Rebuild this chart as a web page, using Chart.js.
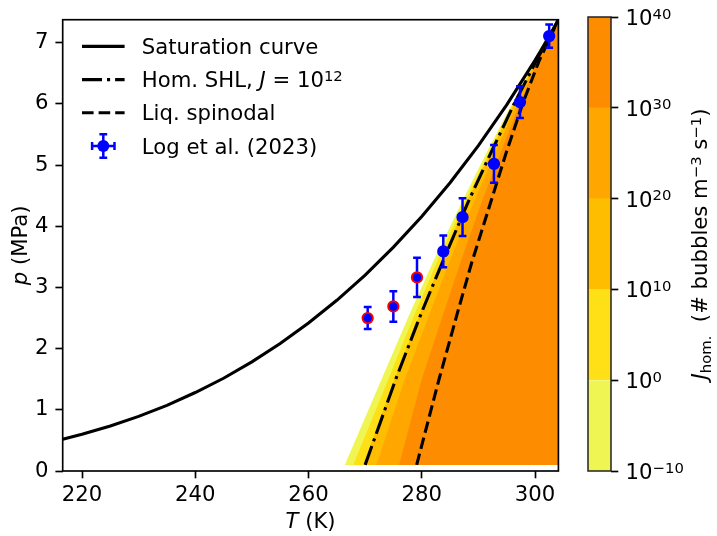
<!DOCTYPE html>
<html>
<head>
<meta charset="utf-8">
<script src="https://cdn.jsdelivr.net/npm/chart.js@4.4.1/dist/chart.umd.min.js"></script>
<style>
  html, body { margin: 0; padding: 0; background: #ffffff; }
  #wrap { position: relative; width: 717px; height: 536px; overflow: hidden; background: #fff; }
  #wrap canvas { position: absolute; left: 0; top: 0; }
</style>
</head>
<body>
<div id="wrap">
  <canvas id="main" width="717" height="536"></canvas>
  <canvas id="cbar" width="717" height="536"></canvas>
</div>
<script>
// ---------------- data ----------------
const T_MIN = 216.59, T_MAX = 304.13, P_MAX = 7.377;

// saturation curve (T in K, p in MPa)
const satT = [216.59, 220, 225, 230, 235, 240, 245, 250, 255, 260, 265, 270, 275, 280, 285, 290, 295, 300, 301, 302, 303, 304.13];
const satP = [0.518, 0.599, 0.736, 0.893, 1.072, 1.283, 1.516, 1.785, 2.084, 2.419, 2.790, 3.203, 3.659, 4.161, 4.712, 5.318, 5.986, 6.713, 6.868, 7.028, 7.190, 7.377];

// pressure levels at which the contour boundaries were read
const contourP = [0.1, 1.5, 2.6, 3.4, 4.4, 5.2, 6.0, 6.7, 7.377];
// temperature of each J contour level at those pressures
const jm10T = [266.4, 272.9, 278.0, 281.9, 287.1, 291.4, 295.9, 300.05, 304.13];
const j0T   = [267.9, 274.1, 278.9, 282.6, 287.6, 291.8, 296.1, 300.1, 304.13];
const j10T  = [269.7, 275.2, 279.8, 283.3, 288.0, 292.1, 296.25, 300.15, 304.13];
const j20T  = [272.0, 277.0, 281.5, 284.8, 289.2, 293.0, 296.8, 300.35, 304.13];
const j30T  = [276.0, 280.0, 283.9, 286.8, 290.6, 293.9, 297.3, 300.5, 304.13];
// homogeneous superheat limit J = 1e12 and liquid spinodal
const shlT  = [270.0, 275.4, 280.0, 283.6, 288.2, 292.2, 296.3, 300.2, 304.13];
const spinT = [279.1, 283.05, 286.35, 288.8, 292.2, 294.9, 297.8, 300.7, 304.13];

// Log et al. (2023) measurements
const logT    = [270.45, 274.98, 279.16, 283.8, 287.2, 292.75, 297.35, 302.5];
const logP    = [2.50, 2.69, 3.165, 3.59, 4.15, 5.02, 6.03, 7.11];
const logPerr = [0.18, 0.25, 0.32, 0.26, 0.31, 0.31, 0.26, 0.19];
const logFlag = [true, true, true, false, false, false, false, false];

// ticks
const xTicks = [220, 240, 260, 280, 300];
const yTicks = [0, 1, 2, 3, 4, 5, 6, 7];
const cbarLevels = [-10, 0, 10, 20, 30, 40];

// ---------------- styling ----------------
const FONT = 'DejaVu Sans';
const FS = 21.2;
const LW = 3.1;
const bandColors = ['#eff654', '#ffdf15', '#ffbd00', '#ffa600', '#fd8c00'];

Chart.defaults.font.family = FONT;
Chart.defaults.color = '#000';

function partFont(p) {
  const size = (p.s === 'sup' || p.s === 'sub') ? FS * 0.7 : FS;
  return (p.i ? 'italic ' : '') + size + 'px "' + FONT + '"';
}
function richWidth(ctx, parts) {
  let w = 0;
  for (const p of parts) { ctx.font = partFont(p); w += ctx.measureText(p.t).width; }
  return w;
}
function drawRich(ctx, parts, x, y, align) {
  ctx.save();
  ctx.textBaseline = 'alphabetic';
  ctx.textAlign = 'left';
  ctx.fillStyle = '#000';
  const w = richWidth(ctx, parts);
  let cx = x;
  if (align === 'center') cx = x - w / 2;
  else if (align === 'right') cx = x - w;
  for (const p of parts) {
    ctx.font = partFont(p);
    const dy = p.s === 'sup' ? -0.3 * FS : (p.s === 'sub' ? 0.2 * FS : 0);
    ctx.fillText(p.t, cx, y + dy);
    cx += ctx.measureText(p.t).width;
  }
  ctx.restore();
}

function polygon(tArr) {
  const pts = contourP.map((p, i) => ({ x: tArr[i], y: p }));
  pts.push({ x: T_MAX, y: contourP[0] });
  return pts;
}
function curve(tArr, pArr) { return tArr.map((t, i) => ({ x: t, y: pArr[i] })); }

const bandData = [jm10T, j0T, j10T, j20T, j30T];
const datasets = [];
bandData.forEach((arr, k) => {
  datasets.push({
    label: 'J band ' + cbarLevels[k],
    data: polygon(arr),
    fill: 'shape',
    backgroundColor: bandColors[k],
    borderColor: 'rgba(0,0,0,0)',
    borderWidth: 0,
    pointRadius: 0,
    tension: 0,
    order: 6 - k
  });
});
datasets.push({
  label: 'Saturation curve', data: curve(satT, satP), fill: false,
  borderColor: '#000', borderWidth: LW, pointRadius: 0, tension: 0, order: 1,
  borderCapStyle: 'butt'
});
datasets.push({
  label: 'Hom. SHL', data: curve(shlT, contourP), fill: false,
  borderColor: '#000', borderWidth: LW, borderDash: [20, 5, 3.1, 5], pointRadius: 0, tension: 0, order: 1,
  borderCapStyle: 'butt'
});
datasets.push({
  label: 'Liq. spinodal', data: curve(spinT, contourP), fill: false,
  borderColor: '#000', borderWidth: LW, borderDash: [11.6, 5], pointRadius: 0, tension: 0, order: 1,
  borderCapStyle: 'butt'
});
const LOG_INDEX = datasets.length;
datasets.push({
  label: 'Log et al. (2023)', data: curve(logT, logP), showLine: false, fill: false,
  borderColor: '#0000ff', backgroundColor: '#0000ff',
  pointRadius: 5.2, pointBorderWidth: 1.9,
  pointBackgroundColor: '#0000ff',
  pointBorderColor: logFlag.map(f => f ? '#ff0000' : '#0000ff'),
  order: 0
});

const ERR_LW = 2.5, CAP = 3.9;
const errPlugin = {
  id: 'errbars',
  beforeDatasetDraw(chart, args) {
    if (args.index !== LOG_INDEX) return;
    const ctx = chart.ctx, xs = chart.scales.x, ys = chart.scales.y;
    ctx.save();
    ctx.strokeStyle = '#0000ff';
    ctx.lineWidth = ERR_LW;
    logT.forEach((t, i) => {
      const x = xs.getPixelForValue(t);
      const y1 = ys.getPixelForValue(logP[i] - logPerr[i]);
      const y2 = ys.getPixelForValue(logP[i] + logPerr[i]);
      ctx.beginPath();
      ctx.moveTo(x, y1); ctx.lineTo(x, y2);
      ctx.moveTo(x - CAP, y1); ctx.lineTo(x + CAP, y1);
      ctx.moveTo(x - CAP, y2); ctx.lineTo(x + CAP, y2);
      ctx.stroke();
    });
    ctx.restore();
  }
};

const framePlugin = {
  id: 'frame',
  afterDatasetsDraw(chart) {
    const a = chart.chartArea, ctx = chart.ctx;
    ctx.save();
    ctx.strokeStyle = '#000';
    ctx.lineWidth = 1.67;
    ctx.strokeRect(a.left, a.top, a.right - a.left, a.bottom - a.top);
    ctx.restore();
  }
};

const legendItems = [
  { parts: [{ t: 'Saturation curve' }], kind: 'solid' },
  { parts: [{ t: 'Hom. SHL, ' }, { t: 'J', i: true }, { t: ' = 10' }, { t: '12', s: 'sup' }], kind: 'dashdot' },
  { parts: [{ t: 'Liq. spinodal' }], kind: 'dashed' },
  { parts: [{ t: 'Log et al. (2023)' }], kind: 'err' }
];

const legendPlugin = {
  id: 'inlegend',
  afterDraw(chart) {
    const ctx = chart.ctx;
    const a = chart.chartArea;
    const hx0 = a.left + 19.3, hx1 = hx0 + 42.6, tx = hx1 + 17.2;
    legendItems.forEach((it, i) => {
      const base = a.top + 34.3 + 33.2 * i;
      const hy = base - 7.6;
      ctx.save();
      ctx.strokeStyle = '#000';
      ctx.lineWidth = LW;
      ctx.lineCap = 'butt';
      if (it.kind !== 'err') {
        if (it.kind === 'dashdot') ctx.setLineDash([20, 5, 3.1, 5]);
        if (it.kind === 'dashed') ctx.setLineDash([11.6, 5]);
        ctx.beginPath(); ctx.moveTo(hx0, hy); ctx.lineTo(hx1, hy); ctx.stroke();
      } else {
        const cx = (hx0 + hx1) / 2;
        ctx.strokeStyle = '#0000ff';
        ctx.lineWidth = ERR_LW;
        ctx.beginPath();
        ctx.moveTo(cx, hy - 11.7); ctx.lineTo(cx, hy + 11.7);
        ctx.moveTo(cx - CAP, hy - 11.7); ctx.lineTo(cx + CAP, hy - 11.7);
        ctx.moveTo(cx - CAP, hy + 11.7); ctx.lineTo(cx + CAP, hy + 11.7);
        ctx.moveTo(cx - 11.2, hy); ctx.lineTo(cx + 11.2, hy);
        ctx.moveTo(cx - 11.2, hy - CAP); ctx.lineTo(cx - 11.2, hy + CAP);
        ctx.moveTo(cx + 11.2, hy - CAP); ctx.lineTo(cx + 11.2, hy + CAP);
        ctx.stroke();
        ctx.fillStyle = '#0000ff';
        ctx.beginPath(); ctx.arc(cx, hy, 6.0, 0, Math.PI * 2); ctx.fill();
      }
      ctx.restore();
      drawRich(ctx, it.parts, tx, base, 'left');
    });
  }
};

const titlePlugin = {
  id: 'axtitles',
  afterDraw(chart) {
    const ctx = chart.ctx, a = chart.chartArea;
    drawRich(ctx, [{ t: 'T', i: true }, { t: ' (K)' }], (a.left + a.right) / 2, 528, 'center');
    ctx.save();
    ctx.translate(27, (a.top + a.bottom) / 2);
    ctx.rotate(-Math.PI / 2);
    drawRich(ctx, [{ t: 'p', i: true }, { t: ' (MPa)' }], 0, 0, 'center');
    ctx.restore();
  }
};

new Chart(document.getElementById('main'), {
  type: 'line',
  data: { datasets },
  options: {
    responsive: false,
    animation: false,
    events: [],
    layout: { padding: { left: 0, right: 158.6, top: 17, bottom: 0 } },
    plugins: { legend: { display: false }, tooltip: { enabled: false } },
    scales: {
      x: {
        type: 'linear', min: T_MIN, max: T_MAX,
        afterBuildTicks: s => { s.ticks = xTicks.map(v => ({ value: v })); },
        afterFit: s => { s.height = 65; },
        grid: { display: true, drawOnChartArea: false, drawTicks: true, tickLength: 7.3, tickWidth: 1.67, tickColor: '#000' },
        border: { display: false },
        ticks: { color: '#000', font: { family: FONT, size: FS }, padding: 4.5, maxRotation: 0, autoSkip: false }
      },
      y: {
        type: 'linear', min: 0, max: P_MAX,
        afterBuildTicks: s => { s.ticks = yTicks.map(v => ({ value: v })); },
        afterFit: s => { s.width = 62.7; },
        grid: { display: true, drawOnChartArea: false, drawTicks: true, tickLength: 7.3, tickWidth: 1.67, tickColor: '#000' },
        border: { display: false },
        ticks: { color: '#000', font: { family: FONT, size: FS }, padding: 7.0, autoSkip: false }
      }
    }
  },
  plugins: [errPlugin, framePlugin, legendPlugin, titlePlugin]
});

// ---------------- colour bar ----------------
const cbarPlugin = {
  id: 'cbarExtras',
  afterDatasetsDraw(chart) {
    const a = chart.chartArea, ctx = chart.ctx;
    ctx.save();
    ctx.strokeStyle = '#222';
    ctx.lineWidth = 1.5;
    ctx.strokeRect(a.left, a.top, a.right - a.left, a.bottom - a.top);
    ctx.restore();
  },
  afterDraw(chart) {
    const a = chart.chartArea, ctx = chart.ctx, ys = chart.scales.y;
    cbarLevels.forEach(v => {
      const y = ys.getPixelForValue(v);
      const exp = v < 0 ? '\u2212' + Math.abs(v) : String(v);
      drawRich(ctx, [{ t: '10' }, { t: exp, s: 'sup' }], a.right + 14.6, y + 8, 'left');
    });
    ctx.save();
    ctx.translate(707, (a.top + a.bottom) / 2);
    ctx.rotate(-Math.PI / 2);
    drawRich(ctx, [
      { t: 'J', i: true }, { t: 'hom.', s: 'sub' },
      { t: '  (# bubbles m' }, { t: '\u22123', s: 'sup' },
      { t: ' s' }, { t: '\u22121', s: 'sup' }, { t: ')' }
    ], 0, 0, 'center');
    ctx.restore();
  }
};

new Chart(document.getElementById('cbar'), {
  type: 'bar',
  data: {
    labels: [''],
    datasets: bandColors.map((c, i) => ({
      label: 'band ' + i,
      data: [[cbarLevels[i], cbarLevels[i + 1]]],
      backgroundColor: c,
      borderWidth: 0,
      barPercentage: 1,
      categoryPercentage: 1
    }))
  },
  options: {
    responsive: false,
    animation: false,
    events: [],
    layout: { padding: { left: 588, right: 26, top: 17, bottom: 65 } },
    plugins: { legend: { display: false }, tooltip: { enabled: false } },
    scales: {
      x: { display: false, stacked: true },
      y: {
        position: 'right', min: -10, max: 40,
        afterBuildTicks: s => { s.ticks = cbarLevels.map(v => ({ value: v })); },
        afterFit: s => { s.width = 80; },
        grid: { display: true, drawOnChartArea: false, drawTicks: true, tickLength: 7.3, tickWidth: 1.67, tickColor: '#000' },
        border: { display: false },
        ticks: { callback: () => '', padding: 0 }
      }
    }
  },
  plugins: [cbarPlugin]
});
</script>
</body>
</html>
